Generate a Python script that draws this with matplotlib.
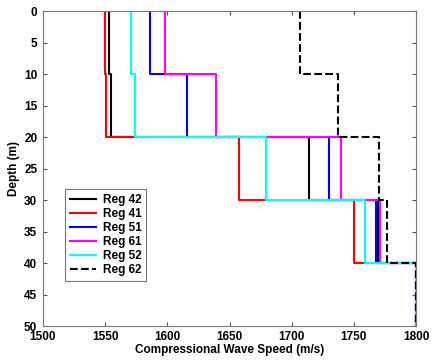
import matplotlib
matplotlib.use('Agg')
import matplotlib.pyplot as plt
import numpy as np

plt.rcParams['font.family'] = ['Liberation Sans', 'DejaVu Sans']
plt.rcParams['font.weight'] = 'bold'

depth_edges = [0, 10, 20, 30, 40, 50]

labels = ['Reg 42', 'Reg 41', 'Reg 51', 'Reg 61', 'Reg 52', 'Reg 62']
reg42 = [1553, 1555, 1714, 1769, 1800]
reg41 = [1550, 1551, 1658, 1750, 1800]
reg51 = [1586, 1616, 1730, 1768, 1800]
reg61 = [1598, 1639, 1740, 1771, 1800]
reg52 = [1571, 1574, 1679, 1759, 1800]
reg62 = [1707, 1737, 1770, 1777, 1800]

colors = ['black', 'red', 'blue', 'magenta', 'cyan', 'black']
styles = ['-', '-', '-', '-', '-', '--']

fig = plt.figure(figsize=(4.38, 3.6), dpi=100)
ax = fig.add_axes([0.098, 0.094, 0.852, 0.875])

yy = np.repeat(depth_edges, 2)[1:-1]
for speeds, lab, c, ls in zip([reg42, reg41, reg51, reg61, reg52, reg62], labels, colors, styles):
    xx = np.repeat(speeds, 2)
    ax.plot(xx, yy, color=c, linestyle=ls, linewidth=1.5, label=lab)

ax.set_xlim(1500, 1800)
ax.set_ylim(50, 0)
ax.set_xticks(np.arange(1500, 1801, 50))
ax.set_yticks(np.arange(0, 51, 5))
ax.tick_params(direction='in', top=True, right=True, labelsize=8.5, length=3, color='#555555')
ax.tick_params(axis='y', pad=4)
for lbl in ax.get_xticklabels() + ax.get_yticklabels():
    lbl.set_fontweight('bold')
for s in ax.spines.values():
    s.set_color('#777777')
ax.set_xlabel('Compressional Wave Speed (m/s)', fontsize=8.5, fontweight='bold', labelpad=1)
ax.set_ylabel('Depth (m)', fontsize=8.5, fontweight='bold', labelpad=3)

leg = ax.legend(loc='lower left', bbox_to_anchor=(0.043, 0.125), fontsize=8.5, frameon=True,
                fancybox=False, edgecolor='#555555', handlelength=2.2, handletextpad=0.6,
                labelspacing=0.17, borderpad=0.4, prop={'weight': 'bold', 'size': 8.5})
leg.get_frame().set_linewidth(0.8)

fig.savefig('out.png', dpi=100)
